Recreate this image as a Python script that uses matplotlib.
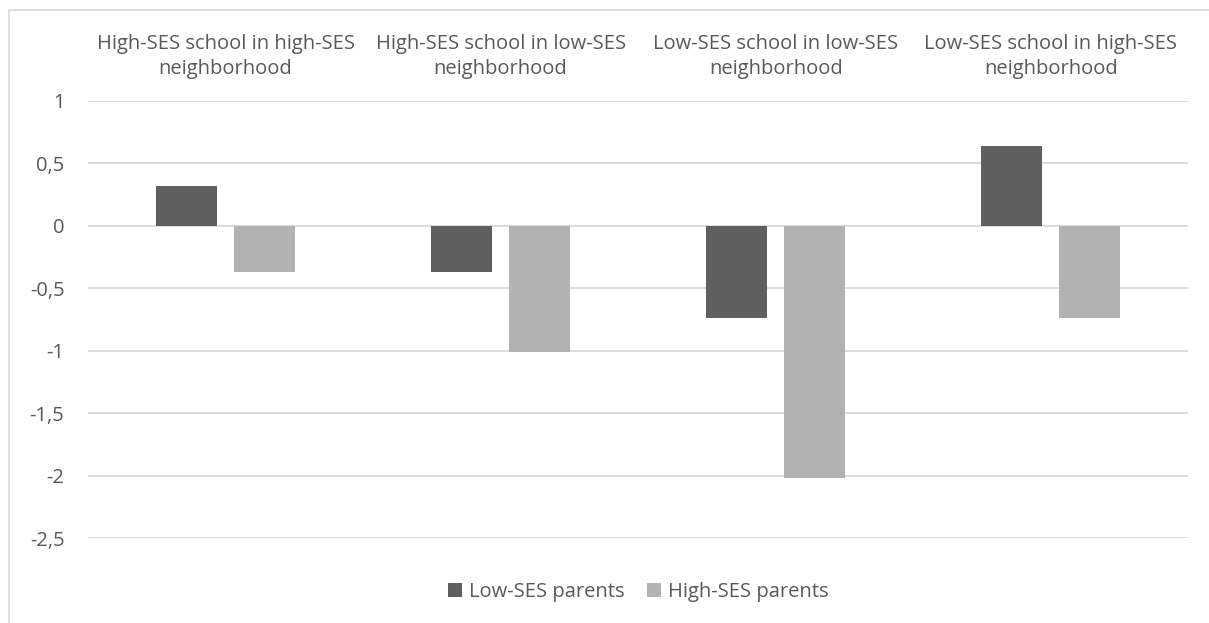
import numpy as np
import matplotlib
matplotlib.use("Agg")
import matplotlib.pyplot as plt
from matplotlib.patches import Rectangle
from matplotlib.ticker import FuncFormatter

# school / neighborhood combinations and the two parent groups
categories = ["High-SES school in high-SES\nneighborhood",
              "High-SES school in low-SES\nneighborhood",
              "Low-SES school in low-SES\nneighborhood",
              "Low-SES school in high-SES\nneighborhood"]
low_ses_parents = [0.32, -0.37, -0.74, 0.64]
high_ses_parents = [-0.37, -1.01, -2.02, -0.74]
series_names = ["Low-SES parents", "High-SES parents"]

plt.rcParams['font.family'] = ['Open Sans', 'DejaVu Sans']
text_col = "#595959"
fs = 14.5

fig = plt.figure(figsize=(12.09, 6.23), dpi=100)
ax = fig.add_axes([0.0728, 0.1364, 0.91, 0.7015])

x = np.arange(len(categories))
w = 0.222
off = 0.142
ax.bar(x - off, low_ses_parents, w, color="#5F5F5F", label=series_names[0], zorder=3)
ax.bar(x + off, high_ses_parents, w, color="#B2B2B2", label=series_names[1], zorder=3)

ax.set_xlim(-0.5, len(categories) - 0.5)
ax.set_ylim(-2.5, 1)
ax.set_yticks(np.arange(-2.5, 1.01, 0.5))
ax.yaxis.set_major_formatter(FuncFormatter(lambda v, p: ("%g" % v).replace(".", ",")))
ax.yaxis.grid(True, color="#D9D9D9", linewidth=1.3, zorder=0)

ax.set_xticks(x)
ax.set_xticklabels(categories, fontsize=fs, color=text_col, linespacing=1.38)
ax.tick_params(axis="x", top=False, bottom=False, labeltop=True, labelbottom=False, pad=12)
ax.tick_params(axis="y", length=0, labelsize=fs, labelcolor=text_col, pad=17)
for s in ax.spines.values():
    s.set_visible(False)

leg = ax.legend(loc="upper center", bbox_to_anchor=(0.5, -0.06), ncol=2, frameon=False,
                fontsize=fs, handlelength=0.7, handleheight=0.7, handletextpad=0.35,
                columnspacing=1.1)
for t in leg.get_texts():
    t.set_color(text_col)

# light frame around the chart area
fig.patches.append(Rectangle((9 / 1209, -0.1), 1.2, 1 - 10 / 623 + 0.1, transform=fig.transFigure,
                             fill=False, edgecolor="#D9D9D9", linewidth=1.2))

fig.savefig("out.png", dpi=100)
